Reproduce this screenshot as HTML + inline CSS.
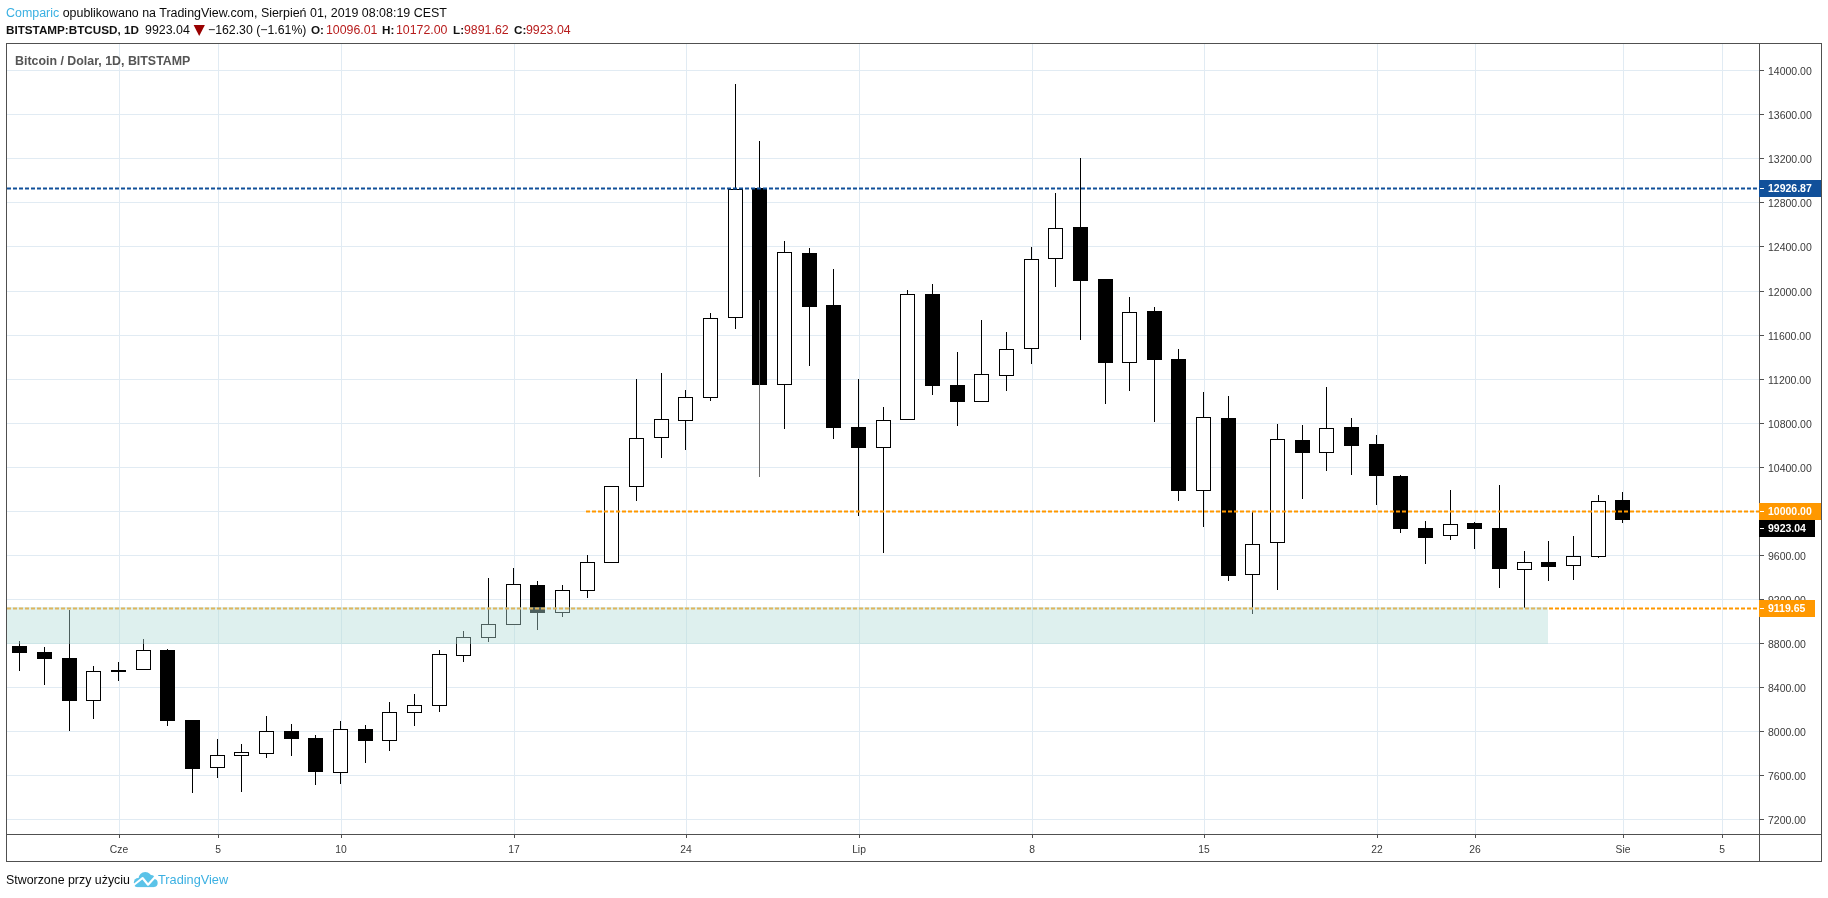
<!DOCTYPE html>
<html><head><meta charset="utf-8">
<style>
html,body{margin:0;padding:0;background:#fff;width:1828px;height:898px;overflow:hidden;}
body{position:relative;font-family:"Liberation Sans",sans-serif;}
.t,.pl,.tl,.lab{will-change:transform;}
.t{position:absolute;white-space:pre;line-height:1;}
.pl{position:absolute;left:1768px;font-size:10.5px;color:#3a3a3a;line-height:16px;height:16px;white-space:pre;}
.tl{position:absolute;top:843px;width:80px;text-align:center;font-size:10.3px;color:#3a3a3a;line-height:14px;white-space:pre;}
.lab{position:absolute;left:1759px;height:17px;line-height:17px;font-size:10.5px;font-weight:bold;color:#fff;white-space:pre;}
.lab span{position:absolute;left:9px;top:0;}
</style></head><body>
<svg width="1828" height="898" style="position:absolute;left:0;top:0" shape-rendering="crispEdges">
<g fill="#e1ebf3"><rect x="7" y="70" width="1752" height="1"/><rect x="7" y="114" width="1752" height="1"/><rect x="7" y="158" width="1752" height="1"/><rect x="7" y="202" width="1752" height="1"/><rect x="7" y="246" width="1752" height="1"/><rect x="7" y="291" width="1752" height="1"/><rect x="7" y="335" width="1752" height="1"/><rect x="7" y="379" width="1752" height="1"/><rect x="7" y="423" width="1752" height="1"/><rect x="7" y="467" width="1752" height="1"/><rect x="7" y="511" width="1752" height="1"/><rect x="7" y="555" width="1752" height="1"/><rect x="7" y="599" width="1752" height="1"/><rect x="7" y="643" width="1752" height="1"/><rect x="7" y="687" width="1752" height="1"/><rect x="7" y="731" width="1752" height="1"/><rect x="7" y="775" width="1752" height="1"/><rect x="7" y="819" width="1752" height="1"/><rect x="119" y="44" width="1" height="790"/><rect x="218" y="44" width="1" height="790"/><rect x="341" y="44" width="1" height="790"/><rect x="514" y="44" width="1" height="790"/><rect x="686" y="44" width="1" height="790"/><rect x="859" y="44" width="1" height="790"/><rect x="1032" y="44" width="1" height="790"/><rect x="1204" y="44" width="1" height="790"/><rect x="1377" y="44" width="1" height="790"/><rect x="1475" y="44" width="1" height="790"/><rect x="1623" y="44" width="1" height="790"/><rect x="1722" y="44" width="1" height="790"/></g>
<g fill="#000">
<rect x="19" y="641" width="1" height="30"/><rect x="12" y="646" width="15" height="7"/>
<rect x="44" y="647" width="1" height="38"/><rect x="37" y="652" width="15" height="7"/>
<rect x="69" y="610" width="1" height="121"/><rect x="62" y="658" width="15" height="43"/>
<rect x="93" y="666" width="1" height="53"/><rect x="86" y="671" width="15" height="30"/><rect x="87" y="672" width="13" height="28" fill="#fff"/>
<rect x="118" y="662" width="1" height="19"/><rect x="111" y="670" width="15" height="2"/>
<rect x="143" y="639" width="1" height="31"/><rect x="136" y="650" width="15" height="20"/><rect x="137" y="651" width="13" height="18" fill="#fff"/>
<rect x="167" y="649" width="1" height="77"/><rect x="160" y="650" width="15" height="71"/>
<rect x="192" y="720" width="1" height="73"/><rect x="185" y="720" width="15" height="49"/>
<rect x="217" y="739" width="1" height="39"/><rect x="210" y="755" width="15" height="13"/><rect x="211" y="756" width="13" height="11" fill="#fff"/>
<rect x="241" y="744" width="1" height="48"/><rect x="234" y="752" width="15" height="4"/><rect x="235" y="753" width="13" height="2" fill="#fff"/>
<rect x="266" y="716" width="1" height="42"/><rect x="259" y="731" width="15" height="23"/><rect x="260" y="732" width="13" height="21" fill="#fff"/>
<rect x="291" y="724" width="1" height="32"/><rect x="284" y="731" width="15" height="8"/>
<rect x="315" y="735" width="1" height="50"/><rect x="308" y="738" width="15" height="34"/>
<rect x="340" y="721" width="1" height="63"/><rect x="333" y="729" width="15" height="44"/><rect x="334" y="730" width="13" height="42" fill="#fff"/>
<rect x="365" y="725" width="1" height="38"/><rect x="358" y="729" width="15" height="12"/>
<rect x="389" y="702" width="1" height="49"/><rect x="382" y="712" width="15" height="29"/><rect x="383" y="713" width="13" height="27" fill="#fff"/>
<rect x="414" y="694" width="1" height="32"/><rect x="407" y="705" width="15" height="8"/><rect x="408" y="706" width="13" height="6" fill="#fff"/>
<rect x="439" y="650" width="1" height="62"/><rect x="432" y="654" width="15" height="52"/><rect x="433" y="655" width="13" height="50" fill="#fff"/>
<rect x="463" y="631" width="1" height="31"/><rect x="456" y="637" width="15" height="19"/><rect x="457" y="638" width="13" height="17" fill="#fff"/>
<rect x="488" y="578" width="1" height="64"/><rect x="481" y="624" width="15" height="14"/><rect x="482" y="625" width="13" height="12" fill="#fff"/>
<rect x="513" y="568" width="1" height="57"/><rect x="506" y="584" width="15" height="41"/><rect x="507" y="585" width="13" height="39" fill="#fff"/>
<rect x="537" y="581" width="1" height="49"/><rect x="530" y="585" width="15" height="28"/>
<rect x="562" y="585" width="1" height="32"/><rect x="555" y="590" width="15" height="23"/><rect x="556" y="591" width="13" height="21" fill="#fff"/>
<rect x="587" y="555" width="1" height="43"/><rect x="580" y="562" width="15" height="29"/><rect x="581" y="563" width="13" height="27" fill="#fff"/>
<rect x="611" y="486" width="1" height="77"/><rect x="604" y="486" width="15" height="77"/><rect x="605" y="487" width="13" height="75" fill="#fff"/>
<rect x="636" y="379" width="1" height="122"/><rect x="629" y="438" width="15" height="49"/><rect x="630" y="439" width="13" height="47" fill="#fff"/>
<rect x="661" y="373" width="1" height="85"/><rect x="654" y="419" width="15" height="19"/><rect x="655" y="420" width="13" height="17" fill="#fff"/>
<rect x="685" y="390" width="1" height="60"/><rect x="678" y="397" width="15" height="24"/><rect x="679" y="398" width="13" height="22" fill="#fff"/>
<rect x="710" y="313" width="1" height="88"/><rect x="703" y="318" width="15" height="80"/><rect x="704" y="319" width="13" height="78" fill="#fff"/>
<rect x="735" y="84" width="1" height="245"/><rect x="728" y="189" width="15" height="129"/><rect x="729" y="190" width="13" height="127" fill="#fff"/>
<rect x="759" y="141" width="1" height="336"/><rect x="752" y="188" width="15" height="197"/>
<rect x="784" y="241" width="1" height="188"/><rect x="777" y="252" width="15" height="133"/><rect x="778" y="253" width="13" height="131" fill="#fff"/>
<rect x="809" y="248" width="1" height="118"/><rect x="802" y="253" width="15" height="54"/>
<rect x="833" y="269" width="1" height="170"/><rect x="826" y="305" width="15" height="123"/>
<rect x="858" y="379" width="1" height="137"/><rect x="851" y="427" width="15" height="21"/>
<rect x="883" y="407" width="1" height="146"/><rect x="876" y="420" width="15" height="28"/><rect x="877" y="421" width="13" height="26" fill="#fff"/>
<rect x="907" y="290" width="1" height="130"/><rect x="900" y="294" width="15" height="126"/><rect x="901" y="295" width="13" height="124" fill="#fff"/>
<rect x="932" y="284" width="1" height="111"/><rect x="925" y="294" width="15" height="92"/>
<rect x="957" y="352" width="1" height="74"/><rect x="950" y="385" width="15" height="17"/>
<rect x="981" y="320" width="1" height="82"/><rect x="974" y="374" width="15" height="28"/><rect x="975" y="375" width="13" height="26" fill="#fff"/>
<rect x="1006" y="332" width="1" height="59"/><rect x="999" y="349" width="15" height="27"/><rect x="1000" y="350" width="13" height="25" fill="#fff"/>
<rect x="1031" y="247" width="1" height="117"/><rect x="1024" y="259" width="15" height="90"/><rect x="1025" y="260" width="13" height="88" fill="#fff"/>
<rect x="1055" y="193" width="1" height="94"/><rect x="1048" y="228" width="15" height="31"/><rect x="1049" y="229" width="13" height="29" fill="#fff"/>
<rect x="1080" y="158" width="1" height="182"/><rect x="1073" y="227" width="15" height="54"/>
<rect x="1105" y="279" width="1" height="125"/><rect x="1098" y="279" width="15" height="84"/>
<rect x="1129" y="297" width="1" height="94"/><rect x="1122" y="312" width="15" height="51"/><rect x="1123" y="313" width="13" height="49" fill="#fff"/>
<rect x="1154" y="307" width="1" height="115"/><rect x="1147" y="311" width="15" height="49"/>
<rect x="1178" y="349" width="1" height="152"/><rect x="1171" y="359" width="15" height="132"/>
<rect x="1203" y="392" width="1" height="135"/><rect x="1196" y="417" width="15" height="74"/><rect x="1197" y="418" width="13" height="72" fill="#fff"/>
<rect x="1228" y="396" width="1" height="185"/><rect x="1221" y="418" width="15" height="158"/>
<rect x="1252" y="512" width="1" height="102"/><rect x="1245" y="544" width="15" height="31"/><rect x="1246" y="545" width="13" height="29" fill="#fff"/>
<rect x="1277" y="424" width="1" height="166"/><rect x="1270" y="439" width="15" height="104"/><rect x="1271" y="440" width="13" height="102" fill="#fff"/>
<rect x="1302" y="425" width="1" height="74"/><rect x="1295" y="440" width="15" height="13"/>
<rect x="1326" y="387" width="1" height="84"/><rect x="1319" y="428" width="15" height="25"/><rect x="1320" y="429" width="13" height="23" fill="#fff"/>
<rect x="1351" y="418" width="1" height="57"/><rect x="1344" y="427" width="15" height="19"/>
<rect x="1376" y="435" width="1" height="70"/><rect x="1369" y="444" width="15" height="32"/>
<rect x="1400" y="475" width="1" height="58"/><rect x="1393" y="476" width="15" height="53"/>
<rect x="1425" y="521" width="1" height="43"/><rect x="1418" y="528" width="15" height="10"/>
<rect x="1450" y="490" width="1" height="50"/><rect x="1443" y="524" width="15" height="12"/><rect x="1444" y="525" width="13" height="10" fill="#fff"/>
<rect x="1474" y="522" width="1" height="27"/><rect x="1467" y="523" width="15" height="6"/>
<rect x="1499" y="485" width="1" height="103"/><rect x="1492" y="528" width="15" height="41"/>
<rect x="1524" y="551" width="1" height="57"/><rect x="1517" y="562" width="15" height="8"/><rect x="1518" y="563" width="13" height="6" fill="#fff"/>
<rect x="1548" y="541" width="1" height="40"/><rect x="1541" y="562" width="15" height="5"/>
<rect x="1573" y="536" width="1" height="44"/><rect x="1566" y="556" width="15" height="10"/><rect x="1567" y="557" width="13" height="8" fill="#fff"/>
<rect x="1598" y="495" width="1" height="63"/><rect x="1591" y="501" width="15" height="56"/><rect x="1592" y="502" width="13" height="54" fill="#fff"/>
<rect x="1622" y="492" width="1" height="31"/><rect x="1615" y="500" width="15" height="20"/>
</g>
<rect x="759" y="300" width="1" height="177" fill="#6a6a6a"/>
<g shape-rendering="auto">
<line x1="7" y1="188.5" x2="1759" y2="188.5" stroke="#11509a" stroke-width="2" stroke-dasharray="4 2"/>
<line x1="586" y1="511.5" x2="1759" y2="511.5" stroke="#ff9800" stroke-width="2" stroke-dasharray="4 2"/>
<line x1="7" y1="608.5" x2="1759" y2="608.5" stroke="#ff9800" stroke-width="2" stroke-dasharray="4 2"/>
</g>
<rect x="7" y="607" width="1541" height="37" fill="rgba(179,221,216,0.43)"/>
<g fill="#505050">
<rect x="6" y="43" width="1816" height="1"/>
<rect x="6" y="43" width="1" height="819"/>
<rect x="1821" y="43" width="1" height="819"/>
<rect x="1759" y="43" width="1" height="819"/>
<rect x="6" y="834" width="1816" height="1"/>
<rect x="6" y="861" width="1816" height="1"/>
<rect x="1760" y="70" width="4" height="1"/><rect x="1760" y="114" width="4" height="1"/><rect x="1760" y="158" width="4" height="1"/><rect x="1760" y="202" width="4" height="1"/><rect x="1760" y="246" width="4" height="1"/><rect x="1760" y="291" width="4" height="1"/><rect x="1760" y="335" width="4" height="1"/><rect x="1760" y="379" width="4" height="1"/><rect x="1760" y="423" width="4" height="1"/><rect x="1760" y="467" width="4" height="1"/><rect x="1760" y="511" width="4" height="1"/><rect x="1760" y="555" width="4" height="1"/><rect x="1760" y="599" width="4" height="1"/><rect x="1760" y="643" width="4" height="1"/><rect x="1760" y="687" width="4" height="1"/><rect x="1760" y="731" width="4" height="1"/><rect x="1760" y="775" width="4" height="1"/><rect x="1760" y="819" width="4" height="1"/><rect x="119" y="835" width="1" height="3"/><rect x="218" y="835" width="1" height="3"/><rect x="341" y="835" width="1" height="3"/><rect x="514" y="835" width="1" height="3"/><rect x="686" y="835" width="1" height="3"/><rect x="859" y="835" width="1" height="3"/><rect x="1032" y="835" width="1" height="3"/><rect x="1204" y="835" width="1" height="3"/><rect x="1377" y="835" width="1" height="3"/><rect x="1475" y="835" width="1" height="3"/><rect x="1623" y="835" width="1" height="3"/><rect x="1722" y="835" width="1" height="3"/>
</g>
</svg>
<div class="pl" style="top:63px">14000.00</div><div class="pl" style="top:107px">13600.00</div><div class="pl" style="top:151px">13200.00</div><div class="pl" style="top:195px">12800.00</div><div class="pl" style="top:239px">12400.00</div><div class="pl" style="top:284px">12000.00</div><div class="pl" style="top:328px">11600.00</div><div class="pl" style="top:372px">11200.00</div><div class="pl" style="top:416px">10800.00</div><div class="pl" style="top:460px">10400.00</div><div class="pl" style="top:504px">10000.00</div><div class="pl" style="top:548px">9600.00</div><div class="pl" style="top:592px">9200.00</div><div class="pl" style="top:636px">8800.00</div><div class="pl" style="top:680px">8400.00</div><div class="pl" style="top:724px">8000.00</div><div class="pl" style="top:768px">7600.00</div><div class="pl" style="top:812px">7200.00</div>
<div class="tl" style="left:79px">Cze</div><div class="tl" style="left:178px">5</div><div class="tl" style="left:301px">10</div><div class="tl" style="left:474px">17</div><div class="tl" style="left:646px">24</div><div class="tl" style="left:819px">Lip</div><div class="tl" style="left:992px">8</div><div class="tl" style="left:1164px">15</div><div class="tl" style="left:1337px">22</div><div class="tl" style="left:1435px">26</div><div class="tl" style="left:1583px">Sie</div><div class="tl" style="left:1682px">5</div>
<div class="lab" style="top:180px;width:62px;background:#11509a"><span>12926.87</span></div>
<div class="lab" style="top:503px;width:62px;background:#ff9800"><span>10000.00</span></div>
<div class="lab" style="top:520px;width:56px;background:#000"><span>9923.04</span></div>
<div class="lab" style="top:600px;width:56px;background:#ff9800"><span>9119.65</span></div>
<svg width="1828" height="898" style="position:absolute;left:0;top:0" shape-rendering="crispEdges"><g fill="#fff"><rect x="1760" y="188" width="4" height="1"/><rect x="1760" y="511" width="4" height="1"/><rect x="1760" y="528" width="4" height="1"/><rect x="1760" y="608" width="4" height="1"/></g></svg>


<div class="t" style="left:6px;top:6.6px;font-size:12.45px;color:#0a0a0a"><span style="color:#3bb0e2">Comparic</span> opublikowano na TradingView.com, Sierpień 01, 2019 08:08:19 CEST</div>
<div class="t" style="left:6px;top:24px;font-size:11.7px;font-weight:bold;color:#111">BITSTAMP:BTCUSD, 1D</div>
<div class="t" style="left:145px;top:24px;font-size:12.4px;color:#0a0a0a">9923.04</div>
<svg style="position:absolute;left:193px;top:24px" width="13" height="13"><polygon points="0.6,1 11.9,1 6.2,12" fill="#990000"/></svg>
<div class="t" style="left:208px;top:24px;font-size:12.3px;color:#0a0a0a">−162.30 (−1.61%)</div>
<div class="t" style="left:311px;top:24px;font-size:11.7px;font-weight:bold;color:#111">O:</div>
<div class="t" style="left:325.5px;top:24px;font-size:12.35px;color:#b71c1c">10096.01</div>
<div class="t" style="left:382px;top:24px;font-size:11.7px;font-weight:bold;color:#111">H:</div>
<div class="t" style="left:396px;top:24px;font-size:12.35px;color:#b71c1c">10172.00</div>
<div class="t" style="left:453px;top:24px;font-size:11.7px;font-weight:bold;color:#111">L:</div>
<div class="t" style="left:464px;top:24px;font-size:12.35px;color:#b71c1c">9891.62</div>
<div class="t" style="left:514px;top:24px;font-size:11.7px;font-weight:bold;color:#111">C:</div>
<div class="t" style="left:525.5px;top:24px;font-size:12.35px;color:#b71c1c">9923.04</div>

<div class="t" style="left:15px;top:54.8px;font-size:12.4px;font-weight:bold;color:#555">Bitcoin / Dolar, 1D, BITSTAMP</div>

<div class="t" style="left:6px;top:873.8px;font-size:12.4px;color:#0a0a0a">Stworzone przy użyciu</div>
<svg style="position:absolute;left:128px;top:866px" width="36" height="24" viewBox="0 0 1347 898">
<g fill="#5bc3e8">
<circle cx="380" cy="610" r="160"/>
<circle cx="645" cy="475" r="255"/>
<circle cx="860" cy="470" r="130"/>
<circle cx="960" cy="640" r="150"/>
<rect x="330" y="600" width="650" height="190"/>
<circle cx="330" cy="700" r="90"/>
</g>
<polyline points="180,740 545,450 750,700 1020,400" fill="none" stroke="#fff" stroke-width="80" stroke-linejoin="round"/>
</svg>
<div class="t" style="left:158px;top:873.6px;font-size:12.75px;color:#3bb0e2">TradingView</div>
</body></html>
